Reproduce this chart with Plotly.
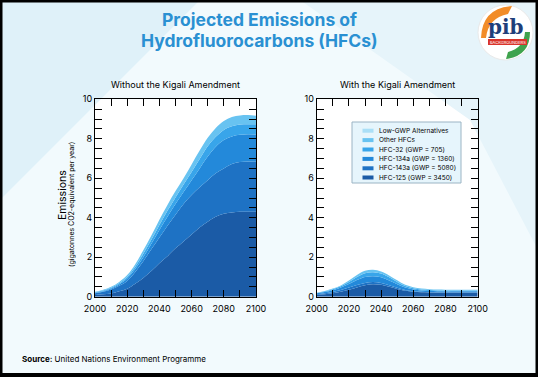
import plotly.graph_objects as go

years = list(range(2000, 2101, 5))

series_names = [
    "HFC-125 (GWP = 3450)",
    "HFC-143a (GWP = 5080)",
    "HFC-134a (GWP = 1360)",
    "HFC-32 (GWP = 705)",
    "Other HFCs",
    "Low-GWP Alternatives",
]
series_colors = ["#1b5ba6", "#1e72c4", "#2389da", "#38a5ea", "#68c3f1", "#aadff7"]

# Without the Kigali Amendment (gigatonnes CO2-eq per year)
without_hfc125 = [0.09, 0.12, 0.16, 0.27, 0.40, 0.65, 0.95, 1.30, 1.70, 2.05, 2.45, 2.80, 3.15, 3.50, 3.80, 4.05, 4.20, 4.27, 4.30, 4.30, 4.30]
without_hfc143a = [0.09, 0.13, 0.20, 0.28, 0.40, 0.60, 0.85, 1.10, 1.30, 1.55, 1.70, 1.90, 2.00, 2.05, 2.10, 2.20, 2.30, 2.45, 2.52, 2.55, 2.54]
without_hfc134a = [0.02, 0.03, 0.05, 0.07, 0.12, 0.15, 0.20, 0.28, 0.38, 0.45, 0.55, 0.60, 0.75, 0.95, 1.20, 1.35, 1.44, 1.40, 1.38, 1.38, 1.38]
without_hfc32 = [0.02, 0.03, 0.04, 0.06, 0.08, 0.12, 0.17, 0.20, 0.25, 0.30, 0.33, 0.38, 0.42, 0.47, 0.52, 0.50, 0.51, 0.51, 0.52, 0.51, 0.51]
without_other = [0.03, 0.04, 0.05, 0.07, 0.10, 0.13, 0.18, 0.22, 0.27, 0.30, 0.32, 0.32, 0.38, 0.43, 0.43, 0.45, 0.45, 0.47, 0.46, 0.46, 0.44]
without_lowgwp = [0.0] * 21

# With the Kigali Amendment
with_hfc125 = [0.08, 0.12, 0.17, 0.25, 0.35, 0.47, 0.58, 0.63, 0.60, 0.50, 0.39, 0.30, 0.25, 0.22, 0.21, 0.20, 0.20, 0.20, 0.20, 0.20, 0.20]
with_hfc143a = [0.04, 0.05, 0.07, 0.09, 0.11, 0.12, 0.12, 0.11, 0.10, 0.08, 0.06, 0.04, 0.03, 0.03, 0.02, 0.02, 0.02, 0.02, 0.02, 0.02, 0.02]
with_hfc134a = [0.05, 0.07, 0.09, 0.12, 0.18, 0.25, 0.30, 0.30, 0.28, 0.24, 0.18, 0.12, 0.09, 0.07, 0.06, 0.06, 0.05, 0.05, 0.05, 0.05, 0.05]
with_hfc32 = [0.02, 0.03, 0.05, 0.07, 0.11, 0.16, 0.19, 0.20, 0.19, 0.16, 0.12, 0.08, 0.06, 0.05, 0.05, 0.04, 0.04, 0.04, 0.04, 0.04, 0.04]
with_other = [0.01, 0.02, 0.03, 0.04, 0.07, 0.10, 0.12, 0.12, 0.11, 0.10, 0.08, 0.06, 0.05, 0.04, 0.04, 0.04, 0.04, 0.04, 0.04, 0.04, 0.04]
with_lowgwp = [0.0] * 21

x_tickvals = list(range(2000, 2101, 10))
x_ticktext = [str(v) if (v - 2000) % 20 == 0 else "" for v in x_tickvals]
y_tickvals = [i * 0.5 for i in range(21)]
y_ticktext = [str(int(v)) if v % 2 == 0 else "" for v in y_tickvals]

W, H = 538, 377
def px(x):
    return x / W
def py(y):
    return 1 - y / H

fig = go.Figure()

without_all = [without_hfc125, without_hfc143a, without_hfc134a, without_hfc32, without_other, without_lowgwp]
with_all = [with_hfc125, with_hfc143a, with_hfc134a, with_hfc32, with_other, with_lowgwp]

for name, color, vals in zip(series_names, series_colors, without_all):
    fig.add_trace(go.Scatter(
        x=years, y=vals, name=name, stackgroup="a", mode="lines",
        line=dict(width=0, shape="spline", color=color), fillcolor=color,
        showlegend=False, xaxis="x", yaxis="y", hoverinfo="skip"))

for name, color, vals in zip(series_names, series_colors, with_all):
    fig.add_trace(go.Scatter(
        x=years, y=vals, name=name, stackgroup="b", mode="lines",
        line=dict(width=0, shape="spline", color=color), fillcolor=color,
        showlegend=False, xaxis="x2", yaxis="y2", hoverinfo="skip"))

font_family = "Inter, Noto Sans, sans-serif"
axis_common = dict(
    showgrid=False, zeroline=False, showline=True, linecolor="black", linewidth=1,
    mirror="ticks", ticks="inside", ticklen=7, tickcolor="black", tickwidth=1,
    tickfont=dict(size=9, color="black", family=font_family),
)

y0, y1 = py(296.7), py(99.3)
fig.update_layout(
    width=W, height=H,
    margin=dict(l=0, r=0, t=0, b=0, autoexpand=False),
    paper_bgcolor="#f2fafd",
    plot_bgcolor="white",
    font=dict(family=font_family, color="black"),
    xaxis=dict(domain=[px(95), px(256)], range=[2000, 2100], tickvals=x_tickvals, ticktext=x_ticktext,
               anchor="y", ticklabelstandoff=3, **axis_common),
    yaxis=dict(domain=[y0, y1], range=[0, 10], tickvals=y_tickvals, ticktext=y_ticktext, anchor="x", **axis_common),
    xaxis2=dict(domain=[px(316.7), px(477.7)], range=[2000, 2100], tickvals=x_tickvals, ticktext=x_ticktext,
                anchor="y2", ticklabelstandoff=3, **axis_common),
    yaxis2=dict(domain=[y0, y1], range=[0, 10], tickvals=y_tickvals, ticktext=y_ticktext, anchor="x2", **axis_common),
    showlegend=False,
)

shapes = [
    # background diagonal tint
    dict(type="path", xref="paper", yref="paper",
         path=f"M 0 1 L {px(200)} 1 L {px(0)} {py(200)} Z",
         fillcolor="#dff1f9", line=dict(width=0), layer="below"),
    dict(type="path", xref="paper", yref="paper",
         path=f"M {px(300)} 1 L 1 1 L 1 {py(250)} L {px(470)} {py(120)} Z",
         fillcolor="#e6f4fa", line=dict(width=0), layer="below"),
    # logo
    dict(type="circle", xref="paper", yref="paper",
         x0=px(478), x1=px(533), y0=py(60), y1=py(5),
         fillcolor="white", line=dict(color="#e9e9e9", width=1)),
    dict(type="path", xref="paper", yref="paper",
         path=f"M {px(481)} {py(38)} Q {px(482)} {py(8)} {px(512)} {py(6)} L {px(508)} {py(14)} Q {px(488)} {py(18)} {px(486)} {py(38)} Z",
         fillcolor="#f28c28", line=dict(width=0)),
    dict(type="path", xref="paper", yref="paper",
         path=f"M {px(530)} {py(32)} Q {px(530)} {py(56)} {px(506)} {py(59)} L {px(508)} {py(52)} Q {px(524)} {py(48)} {px(525)} {py(32)} Z",
         fillcolor="#3fa34d", line=dict(width=0)),
    dict(type="rect", xref="paper", yref="paper",
         x0=px(488), x1=px(527), y0=py(45), y1=py(39),
         fillcolor="#d9342b", line=dict(width=0)),
    # legend box (right panel)
    dict(type="rect", xref="paper", yref="paper",
         x0=px(352), x1=px(461), y0=py(183), y1=py(122),
         fillcolor="#e6f5fc", line=dict(color="#9bb4c4", width=1)),
    # black frame
    dict(type="rect", xref="paper", yref="paper", x0=0, x1=1, y0=0, y1=1,
         line=dict(color="black", width=5), fillcolor="rgba(0,0,0,0)"),
    dict(type="rect", xref="paper", yref="paper", x0=0, x1=1, y0=0, y1=py(373),
         line=dict(width=0), fillcolor="black"),
]

annotations = [
    dict(text="<b>Projected Emissions of</b>", x=px(259), y=py(19),
         font=dict(size=17.5, color="#2a90d2", family=font_family)),
    dict(text="<b>Hydrofluorocarbons (HFCs)</b>", x=px(259), y=py(40),
         font=dict(size=17.5, color="#2a90d2", family=font_family)),
    dict(text="Without the Kigali Amendment", x=px(175.5), y=py(84),
         font=dict(size=9, color="black", family=font_family)),
    dict(text="With the Kigali Amendment", x=px(397), y=py(84),
         font=dict(size=9, color="black", family=font_family)),
    dict(text="Emissions", x=px(62), y=py(195), textangle=-90,
         font=dict(size=10.5, color="black", family=font_family)),
    dict(text="(gigatonnes CO2-equivalent per year)", x=px(72), y=py(205),
         textangle=-90, font=dict(size=7, color="black", family=font_family)),
    dict(text="<b>Source:</b> United Nations Environment Programme", x=px(20), y=py(359),
         xanchor="left", font=dict(size=8, color="black", family=font_family)),
    dict(text="<b>pib</b>", x=px(506), y=py(27),
         font=dict(size=20, color="#1f3f7a", family="DejaVu Serif")),
    dict(text="BACKGROUNDERS", x=px(507.5), y=py(42),
         font=dict(size=4, color="white", family=font_family)),
]

# legend entries (top to bottom: reversed stacking order)
row_y = [130.7, 140.1, 149.5, 158.9, 168.3, 177.5]
for i, (name, color) in enumerate(zip(series_names[::-1], series_colors[::-1])):
    yc = row_y[i]
    shapes.append(dict(type="rect", xref="paper", yref="paper",
                       x0=px(362.5), x1=px(373.5), y0=py(yc + 2), y1=py(yc - 2),
                       fillcolor=color, line=dict(width=0)))
    annotations.append(dict(text=name, x=px(377), y=py(yc), xanchor="left",
                            font=dict(size=6.5, color="black", family=font_family)))

for a in annotations:
    a.setdefault("xref", "paper")
    a.setdefault("yref", "paper")
    a.setdefault("xanchor", "center")
    a.setdefault("yanchor", "middle")
    a["showarrow"] = False

fig.update_layout(shapes=shapes, annotations=annotations)

fig.write_html("out.html", config={"displayModeBar": False},
               post_script="document.body.style.margin='0';")
